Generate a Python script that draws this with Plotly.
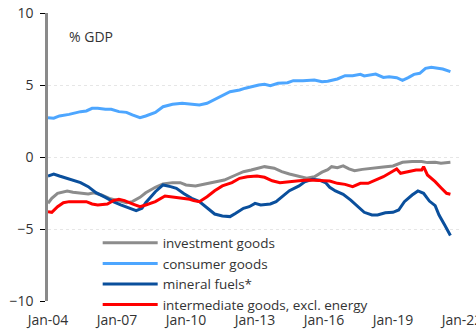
import plotly.graph_objects as go

# Trade balance by product group, % of GDP
inv_dates = ["2004-01", "2004-03", "2004-06", "2004-11", "2005-02", "2005-06", "2005-10", "2006-01",
             "2006-05", "2006-09", "2007-02", "2007-06", "2007-09", "2008-01", "2008-04", "2008-09",
             "2009-01", "2009-06", "2009-10", "2010-01", "2010-06", "2010-11", "2011-04", "2011-09",
             "2012-03", "2012-07", "2012-11", "2013-03", "2013-06", "2013-11", "2014-03", "2014-07",
             "2014-12", "2015-04", "2015-08", "2015-12", "2016-03", "2016-05", "2016-08", "2016-11",
             "2017-02", "2017-05", "2017-09", "2018-03", "2018-08", "2019-01", "2019-06", "2019-11",
             "2020-04", "2020-07", "2020-11", "2021-02", "2021-07"]
inv_vals = [-3.22, -2.87, -2.52, -2.36, -2.45, -2.52, -2.57, -2.48,
            -2.64, -2.87, -3.03, -3.17, -3.10, -2.80, -2.48, -2.10,
            -1.88, -1.78, -1.78, -1.94, -2.01, -1.88, -1.78, -1.60,
            -1.25, -1.02, -0.90, -0.78, -0.67, -0.78, -1.02, -1.18,
            -1.32, -1.48, -1.37, -1.05, -0.88, -0.67, -0.74, -0.62,
            -0.83, -0.95, -0.86, -0.74, -0.69, -0.62, -0.37, -0.32,
            -0.32, -0.39, -0.37, -0.44, -0.37]

cons_dates = ["2004-01", "2004-04", "2004-07", "2004-12", "2005-06", "2005-09", "2005-12", "2006-03",
              "2006-07", "2006-10", "2007-02", "2007-06", "2007-09", "2008-01", "2008-04", "2008-09",
              "2009-01", "2009-06", "2009-11", "2010-05", "2010-08", "2010-12", "2011-04", "2011-08",
              "2011-12", "2012-05", "2012-08", "2013-03", "2013-06", "2013-09", "2014-01", "2014-06",
              "2014-09", "2015-02", "2015-08", "2015-12", "2016-03", "2016-08", "2016-12", "2017-04",
              "2017-08", "2017-10", "2018-04", "2018-08", "2018-11", "2019-03", "2019-06", "2019-09",
              "2019-12", "2020-03", "2020-06", "2020-09", "2021-01", "2021-03", "2021-07"]
cons_vals = [2.73, 2.69, 2.85, 2.96, 3.15, 3.20, 3.38, 3.38,
             3.31, 3.31, 3.15, 3.10, 2.92, 2.73, 2.85, 3.10,
             3.49, 3.66, 3.73, 3.68, 3.61, 3.73, 4.00, 4.31,
             4.53, 4.65, 4.78, 5.00, 5.05, 4.95, 5.12, 5.16,
             5.30, 5.30, 5.35, 5.23, 5.26, 5.42, 5.65, 5.65,
             5.74, 5.63, 5.76, 5.53, 5.58, 5.51, 5.33, 5.51,
             5.74, 5.81, 6.16, 6.23, 6.16, 6.11, 5.93]

fuel_dates = ["2004-01", "2004-04", "2004-07", "2004-11", "2005-02", "2005-06", "2005-10", "2006-02",
              "2006-07", "2006-11", "2007-03", "2007-08", "2007-11", "2008-02", "2008-04", "2008-09",
              "2009-01", "2009-05", "2009-08", "2009-12", "2010-04", "2010-08", "2010-12", "2011-04",
              "2011-08", "2011-12", "2012-03", "2012-07", "2012-10", "2013-01", "2013-04", "2013-09",
              "2013-12", "2014-04", "2014-07", "2014-12", "2015-03", "2015-07", "2015-11", "2016-02",
              "2016-04", "2016-07", "2016-11", "2017-03", "2017-07", "2017-10", "2018-02", "2018-05",
              "2018-09", "2019-01", "2019-04", "2019-07", "2019-11", "2020-02", "2020-05", "2020-08",
              "2020-11", "2021-01", "2021-04", "2021-07"]
fuel_vals = [-1.32, -1.18, -1.32, -1.48, -1.60, -1.78, -2.06, -2.48,
             -2.80, -3.10, -3.33, -3.56, -3.73, -3.56, -3.17, -2.41,
             -1.94, -2.06, -2.18, -2.55, -2.87, -3.10, -3.56, -3.96,
             -4.10, -4.14, -3.91, -3.56, -3.45, -3.22, -3.33, -3.26,
             -3.10, -2.64, -2.34, -2.01, -1.72, -1.55, -1.62, -1.80,
             -2.10, -2.36, -2.59, -2.99, -3.45, -3.84, -4.03, -4.03,
             -3.87, -3.84, -3.68, -3.10, -2.64, -2.36, -2.52, -3.06,
             -3.38, -4.03, -4.72, -5.45]

inter_dates = ["2004-01", "2004-03", "2004-06", "2004-09", "2004-12", "2005-05", "2005-09", "2005-12",
               "2006-03", "2006-08", "2006-11", "2007-02", "2007-05", "2007-09", "2008-01", "2008-04",
               "2008-09", "2009-02", "2009-06", "2009-11", "2010-03", "2010-05", "2010-08", "2010-12",
               "2011-04", "2011-08", "2012-01", "2012-05", "2012-09", "2013-02", "2013-06", "2013-10",
               "2014-02", "2014-06", "2014-12", "2015-05", "2015-10", "2016-01", "2016-04", "2016-08",
               "2016-12", "2017-04", "2017-08", "2017-12", "2018-04", "2018-08", "2018-12", "2019-03",
               "2019-05", "2019-09", "2020-01", "2020-04", "2020-05", "2020-07", "2020-11", "2021-02",
               "2021-05", "2021-07"]
inter_vals = [-3.80, -3.84, -3.45, -3.17, -3.10, -3.08, -3.10, -3.26,
              -3.33, -3.26, -3.03, -2.94, -3.03, -3.26, -3.45, -3.33,
              -3.10, -2.71, -2.76, -2.87, -2.94, -3.03, -3.10, -2.76,
              -2.34, -2.01, -1.78, -1.48, -1.37, -1.32, -1.41, -1.65,
              -1.78, -1.71, -1.65, -1.60, -1.65, -1.67, -1.67, -1.83,
              -1.90, -2.06, -1.83, -1.83, -1.60, -1.37, -1.06, -0.83,
              -1.13, -1.02, -0.90, -0.90, -0.67, -1.25, -1.71, -2.13,
              -2.52, -2.59]

series = [
    ("investment goods", inv_dates, inv_vals, "#8c8c8c"),
    ("consumer goods", cons_dates, cons_vals, "#4da6ff"),
    ("mineral fuels*", fuel_dates, fuel_vals, "#0a4f9c"),
    ("intermediate goods, excl. energy", inter_dates, inter_vals, "#ff0000"),
]

FONT = "Open Sans"
TEXT = "#333333"

fig = go.Figure()
for name, xs, ys, col in series:
    fig.add_trace(go.Scatter(x=xs, y=ys, name=name, mode="lines",
                             line=dict(color=col, width=3)))

x_range = ["2004-01-01", "2022-01-01"]

fig.update_layout(
    width=476, height=329,
    margin=dict(l=48, r=14, t=13, b=28, autoexpand=False),
    paper_bgcolor="white", plot_bgcolor="white",
    font=dict(family=FONT, size=14, color=TEXT),
    showlegend=True,
    legend=dict(x=0.12, y=0.255, xanchor="left", yanchor="top",
                bgcolor="rgba(0,0,0,0)", font=dict(family=FONT, size=13.5, color=TEXT),
                tracegroupgap=0, itemwidth=55),
    xaxis=dict(range=x_range, tick0="2004-01-01", dtick="M36", tickformat="%b-%y",
               showgrid=False, showline=False, ticks="", zeroline=False, automargin=False,
               ticklabelstandoff=9, ticklabeloverflow="allow",
               tickfont=dict(family=FONT, size=14, color=TEXT)),
    xaxis2=dict(range=x_range, tick0="2004-01-01", dtick="M36", overlaying="x",
                anchor="free", position=0.5, side="bottom", matches="x", automargin=False,
                showline=True, linecolor="black", linewidth=1.5,
                ticks="outside", ticklen=5, tickcolor="black", tickwidth=1.5,
                showticklabels=False, showgrid=False, zeroline=False),
    yaxis=dict(range=[-10, 10], tickvals=[-10, -5, 0, 5, 10], automargin=False,
               showline=True, linecolor="#8a8a8a", linewidth=2.5,
               ticks="outside", ticklen=5, tickcolor="black", tickwidth=1,
               showgrid=True, gridcolor="#e6e6e6", griddash="dot", gridwidth=1,
               zeroline=False, ticklabelstandoff=4,
               tickfont=dict(family=FONT, size=14, color=TEXT)),
    annotations=[dict(text="% GDP", x=0.045, y=0.92, xref="paper", yref="paper",
                      xanchor="left", yanchor="middle", showarrow=False,
                      font=dict(family=FONT, size=14, color=TEXT))],
)

fig.write_html("out.html")
